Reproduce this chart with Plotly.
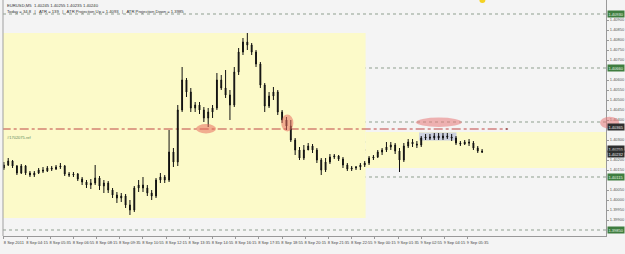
import plotly.graph_objects as go
import pandas as pd

# ---------------- data ----------------
symbol_line = "EURUSD,M5  1.40245 1.40255 1.40235 1.40240"
info_line = "Today = 34.8   |   ATR = 139   |   ATR Projection Up = 1.4093   |   ATR Projection Down = 1.3985"
first_bar = "2011-09-08 02:55"
bar_minutes = 15

open_ = [1.40160, 1.40175, 1.40195, 1.40170, 1.40135, 1.40170, 1.40135, 1.40125, 1.40135, 1.40150,
         1.40145, 1.40160, 1.40155, 1.40165, 1.40170, 1.40130, 1.40125, 1.40130, 1.40105, 1.40090,
         1.40075, 1.40085, 1.40110, 1.40070, 1.40085, 1.40050, 1.40025, 1.40010, 1.40020, 1.39975,
         1.39950, 1.40060, 1.40075, 1.40060, 1.40035, 1.40020, 1.40100, 1.40115, 1.40100, 1.40240,
         1.40190, 1.40450, 1.40600, 1.40540, 1.40460, 1.40475, 1.40450, 1.40410, 1.40440, 1.40460,
         1.40600, 1.40560, 1.40525, 1.40475, 1.40640, 1.40740, 1.40790, 1.40775, 1.40740, 1.40680,
         1.40575, 1.40470, 1.40520, 1.40540, 1.40440, 1.40400, 1.40370, 1.40300, 1.40250, 1.40210,
         1.40250, 1.40270, 1.40250, 1.40200, 1.40150, 1.40190, 1.40215, 1.40220, 1.40205, 1.40175,
         1.40155, 1.40160, 1.40165, 1.40175, 1.40185, 1.40210, 1.40215, 1.40240, 1.40250, 1.40265,
         1.40275, 1.40245, 1.40200, 1.40270, 1.40290, 1.40280, 1.40275, 1.40310, 1.40315, 1.40310,
         1.40320, 1.40310, 1.40320, 1.40315, 1.40310, 1.40285, 1.40280, 1.40290, 1.40285, 1.40260,
         1.40245]
high = [1.40190, 1.40210, 1.40200, 1.40175, 1.40180, 1.40175, 1.40145, 1.40145, 1.40160, 1.40165,
        1.40170, 1.40170, 1.40175, 1.40185, 1.40175, 1.40140, 1.40140, 1.40135, 1.40115, 1.40100,
        1.40105, 1.40175, 1.40120, 1.40100, 1.40095, 1.40060, 1.40040, 1.40035, 1.40030, 1.40000,
        1.40070, 1.40100, 1.40115, 1.40075, 1.40050, 1.40110, 1.40135, 1.40125, 1.40350, 1.40260,
        1.40475, 1.40665, 1.40610, 1.40560, 1.40490, 1.40490, 1.40465, 1.40460, 1.40475, 1.40635,
        1.40625, 1.40650, 1.40550, 1.40665, 1.40760, 1.40810, 1.40835, 1.40785, 1.40750, 1.40690,
        1.40585, 1.40540, 1.40565, 1.40550, 1.40450, 1.40415, 1.40400, 1.40310, 1.40265, 1.40275,
        1.40285, 1.40280, 1.40260, 1.40210, 1.40210, 1.40230, 1.40230, 1.40225, 1.40215, 1.40185,
        1.40170, 1.40170, 1.40185, 1.40195, 1.40220, 1.40225, 1.40250, 1.40260, 1.40290, 1.40290,
        1.40285, 1.40260, 1.40285, 1.40305, 1.40305, 1.40295, 1.40320, 1.40330, 1.40330, 1.40335,
        1.40335, 1.40335, 1.40335, 1.40330, 1.40320, 1.40295, 1.40300, 1.40305, 1.40295, 1.40270,
        1.40255]
low = [1.40150, 1.40170, 1.40160, 1.40125, 1.40130, 1.40125, 1.40115, 1.40115, 1.40130, 1.40135,
       1.40140, 1.40145, 1.40150, 1.40155, 1.40120, 1.40115, 1.40115, 1.40095, 1.40075, 1.40060,
       1.40055, 1.40075, 1.40050, 1.40035, 1.40035, 1.40010, 1.39985, 1.39990, 1.39960, 1.39925,
       1.39940, 1.40040, 1.40040, 1.40020, 1.40000, 1.40010, 1.40085, 1.40085, 1.40090, 1.40165,
       1.40170, 1.40440, 1.40515, 1.40440, 1.40440, 1.40430, 1.40390, 1.40365, 1.40410, 1.40450,
       1.40550, 1.40510, 1.40400, 1.40465, 1.40625, 1.40725, 1.40750, 1.40725, 1.40665, 1.40560,
       1.40440, 1.40460, 1.40500, 1.40425, 1.40385, 1.40350, 1.40290, 1.40225, 1.40200, 1.40200,
       1.40250, 1.40235, 1.40185, 1.40125, 1.40140, 1.40180, 1.40205, 1.40195, 1.40160, 1.40145,
       1.40145, 1.40150, 1.40150, 1.40165, 1.40175, 1.40200, 1.40210, 1.40225, 1.40240, 1.40250,
       1.40230, 1.40140, 1.40190, 1.40260, 1.40265, 1.40260, 1.40265, 1.40300, 1.40300, 1.40300,
       1.40300, 1.40300, 1.40305, 1.40295, 1.40275, 1.40270, 1.40275, 1.40270, 1.40250, 1.40235,
       1.40235]
close = [1.40175, 1.40195, 1.40170, 1.40135, 1.40170, 1.40135, 1.40125, 1.40135, 1.40150, 1.40145,
         1.40160, 1.40155, 1.40165, 1.40170, 1.40130, 1.40125, 1.40130, 1.40105, 1.40090, 1.40075,
         1.40085, 1.40110, 1.40070, 1.40085, 1.40050, 1.40025, 1.40010, 1.40020, 1.39975, 1.39950,
         1.40060, 1.40075, 1.40060, 1.40035, 1.40020, 1.40100, 1.40115, 1.40100, 1.40240, 1.40190,
         1.40450, 1.40600, 1.40540, 1.40460, 1.40475, 1.40450, 1.40410, 1.40440, 1.40460, 1.40600,
         1.40560, 1.40525, 1.40475, 1.40640, 1.40740, 1.40790, 1.40775, 1.40740, 1.40680, 1.40575,
         1.40470, 1.40520, 1.40540, 1.40440, 1.40400, 1.40370, 1.40300, 1.40250, 1.40210, 1.40250,
         1.40270, 1.40250, 1.40200, 1.40150, 1.40190, 1.40215, 1.40220, 1.40205, 1.40175, 1.40155,
         1.40160, 1.40165, 1.40175, 1.40185, 1.40210, 1.40215, 1.40240, 1.40250, 1.40265, 1.40275,
         1.40245, 1.40200, 1.40270, 1.40290, 1.40280, 1.40275, 1.40310, 1.40315, 1.40310, 1.40320,
         1.40310, 1.40320, 1.40315, 1.40310, 1.40285, 1.40280, 1.40290, 1.40285, 1.40260, 1.40245,
         1.40240]

x_tick_times = ["2011-09-08 02:55", "2011-09-08 04:15", "2011-09-08 05:35", "2011-09-08 06:55",
                "2011-09-08 08:15", "2011-09-08 09:35", "2011-09-08 10:55", "2011-09-08 12:15",
                "2011-09-08 13:35", "2011-09-08 14:55", "2011-09-08 16:15", "2011-09-08 17:35",
                "2011-09-08 18:55", "2011-09-08 20:15", "2011-09-08 21:35", "2011-09-08 22:55",
                "2011-09-09 00:15", "2011-09-09 01:35", "2011-09-09 02:55", "2011-09-09 04:15",
                "2011-09-09 05:35"]
x_tick_text = ["8 Sep 2011", "8 Sep 04:15", "8 Sep 05:35", "8 Sep 06:55", "8 Sep 08:15",
               "8 Sep 09:35", "8 Sep 10:55", "8 Sep 12:15", "8 Sep 13:35", "8 Sep 14:55",
               "8 Sep 16:15", "8 Sep 17:35", "8 Sep 18:55", "8 Sep 20:15", "8 Sep 21:35",
               "8 Sep 22:55", "9 Sep 00:15", "9 Sep 01:35", "9 Sep 02:55", "9 Sep 04:15",
               "9 Sep 05:35"]
y_tick_vals = [1.40900, 1.40850, 1.40800, 1.40750, 1.40700, 1.40600, 1.40550, 1.40500,
               1.40450, 1.40400, 1.40300, 1.40200, 1.40150, 1.40050, 1.40000, 1.39950,
               1.39900]

dotted_levels = [1.40930, 1.40660, 1.40390, 1.40115, 1.39850]
green_box_levels = [1.40930, 1.40660, 1.40115, 1.39850]
red_level = 1.40355
green_dashdot_level = 1.40290
price_level = 1.40250
yellow_level = 1.40235
dark_box_levels = [1.40365, 1.40255, 1.40232]
zone_big = (1.39910, 1.40835)
zone_band = (1.40160, 1.40340)
ref_label = "#1702075.ref"

# ---------------- helpers ----------------
T0 = pd.Timestamp(first_bar)
STEP = pd.Timedelta(minutes=bar_minutes)


def bt(idx):
    return (T0 + STEP * idx).strftime("%Y-%m-%d %H:%M:%S")


times = [bt(i) for i in range(len(close))]

BG = "#f4f4f4"
YEL = "#fcfac9"
FONT = "Liberation Sans"

fig = go.Figure()
fig.add_trace(go.Candlestick(
    x=times, open=open_, high=high, low=low, close=close,
    increasing=dict(line=dict(color="#111111", width=1), fillcolor="#111111"),
    decreasing=dict(line=dict(color="#111111", width=1), fillcolor="#111111"),
    whiskerwidth=0, showlegend=False, hoverinfo="skip",
))

shapes = []
shapes.append(dict(type="rect", xref="x", yref="y", x0=bt(-0.5), x1=bt(83.2),
                   y0=zone_big[0], y1=zone_big[1], fillcolor=YEL, line_width=0, layer="below"))
shapes.append(dict(type="rect", xref="x", yref="y", x0=bt(83.2), x1=bt(140),
                   y0=zone_band[0], y1=zone_band[1], fillcolor=YEL, line_width=0, layer="below"))
shapes.append(dict(type="rect", xref="x", yref="y", x0=bt(95.5), x1=bt(104.1),
                   y0=1.40298, y1=1.40338, fillcolor="rgba(165,175,240,0.55)", line_width=0,
                   layer="below"))
for lv in dotted_levels:
    shapes.append(dict(type="line", xref="paper", yref="y", x0=0, x1=1, y0=lv, y1=lv,
                       line=dict(color="#8f9f8f", width=1, dash="dot"), layer="below"))
shapes.append(dict(type="line", xref="paper", yref="y", x0=0, x1=1, y0=green_dashdot_level,
                   y1=green_dashdot_level, line=dict(color="#8dbb8d", width=1, dash="dashdot"),
                   layer="below"))
shapes.append(dict(type="line", xref="paper", yref="y", x0=0, x1=1, y0=price_level, y1=price_level,
                   line=dict(color="#6b6b55", width=1), layer="below"))
shapes.append(dict(type="line", xref="paper", yref="y", x0=0, x1=1, y0=yellow_level, y1=yellow_level,
                   line=dict(color="#efe27a", width=1), layer="below"))
shapes.append(dict(type="line", xref="x", yref="y", x0=bt(-0.5), x1=bt(115.7), y0=red_level,
                   y1=red_level, line=dict(color="#c04646", width=1, dash="dashdot"), layer="below"))
shapes.append(dict(type="circle", xref="x", yref="y", x0=bt(115.4), x1=bt(116.0),
                   y0=red_level - 0.00004, y1=red_level + 0.00004, fillcolor="#8a3a3a",
                   line_width=0))
shapes.append(dict(type="circle", xref="x", yref="y", x0=bt(44.2), x1=bt(48.8),
                   y0=1.40333, y1=1.40380, fillcolor="rgba(232,110,95,0.55)", line_width=0,
                   layer="above"))
shapes.append(dict(type="circle", xref="x", yref="y", x0=bt(63.8), x1=bt(66.6),
                   y0=1.40343, y1=1.40428, fillcolor="rgba(232,110,95,0.55)", line_width=0,
                   layer="above"))
shapes.append(dict(type="circle", xref="x", yref="y", x0=bt(94.8), x1=bt(105.3),
                   y0=1.40365, y1=1.40412, fillcolor="rgba(232,120,120,0.55)", line_width=0,
                   layer="above"))
shapes.append(dict(type="circle", xref="paper", yref="paper", x0=0.990, x1=1.022,
                   y0=0.455, y1=0.505, fillcolor="rgba(232,120,120,0.55)", line_width=0,
                   layer="above"))
shapes.append(dict(type="line", xref="paper", yref="paper", x0=0, x1=0, y0=0, y1=1,
                   line=dict(color="#a0a0a0", width=1)))
shapes.append(dict(type="circle", xref="paper", yref="paper", xsizemode="pixel",
                   ysizemode="pixel", xanchor=0.795, yanchor=1, x0=-3, x1=3, y0=-3, y1=3,
                   fillcolor="#f4d224", line_width=0))

annotations = [
    dict(text=symbol_line, xref="paper", yref="paper", x=0.004, y=1, yshift=-1,
         xanchor="left", yanchor="top", showarrow=False, font=dict(size=4.2, color="#333", family=FONT)),
    dict(text=info_line, xref="paper", yref="paper", x=0.004, y=1, yshift=-7,
         xanchor="left", yanchor="top", showarrow=False, font=dict(size=4.2, color="#333", family=FONT)),
    dict(text=ref_label, xref="paper", yref="y", x=0.004, y=green_dashdot_level,
         xanchor="left", yanchor="bottom", showarrow=False, font=dict(size=4, color="#5d8a5d", family=FONT)),
]
for lv in green_box_levels:
    annotations.append(dict(text=f"{lv:.5f}", xref="paper", yref="y", x=1, y=lv, xanchor="left",
                            yanchor="middle", showarrow=False, bgcolor="#3f7d3f", borderpad=0.5,
                            xshift=1, font=dict(size=4, color="#e8f5e8", family=FONT)))
for lv in dark_box_levels:
    annotations.append(dict(text=f"{lv:.5f}", xref="paper", yref="y", x=1, y=lv, xanchor="left",
                            yanchor="middle", showarrow=False, bgcolor="#2e2e2e", borderpad=0.5,
                            xshift=1, font=dict(size=4, color="#eeeeee", family=FONT)))

fig.update_layout(
    width=625, height=254,
    margin=dict(l=3, r=13, t=0, b=18),
    paper_bgcolor=BG, plot_bgcolor=BG,
    shapes=shapes, annotations=annotations,
    showlegend=False,
    boxgap=0.72,
    xaxis=dict(type="date", range=[bt(-0.2), bt(138.5)], rangeslider=dict(visible=False),
               tickvals=x_tick_times, ticktext=x_tick_text, ticklabelshift=10, tickangle=0,
               tickfont=dict(size=4, color="#444", family=FONT),
               showgrid=False, zeroline=False, showline=True, linecolor="#999", linewidth=1,
               ticks="outside", ticklen=2, tickcolor="#999"),
    yaxis=dict(side="right", range=[1.39820, 1.41000], tickvals=y_tick_vals,
               tickformat=".5f", tickfont=dict(size=4, color="#555", family=FONT),
               showgrid=False, zeroline=False, showline=True, linecolor="#999", linewidth=1,
               ticks="outside", ticklen=2, tickcolor="#999"),
)

fig.write_html("out.html")
